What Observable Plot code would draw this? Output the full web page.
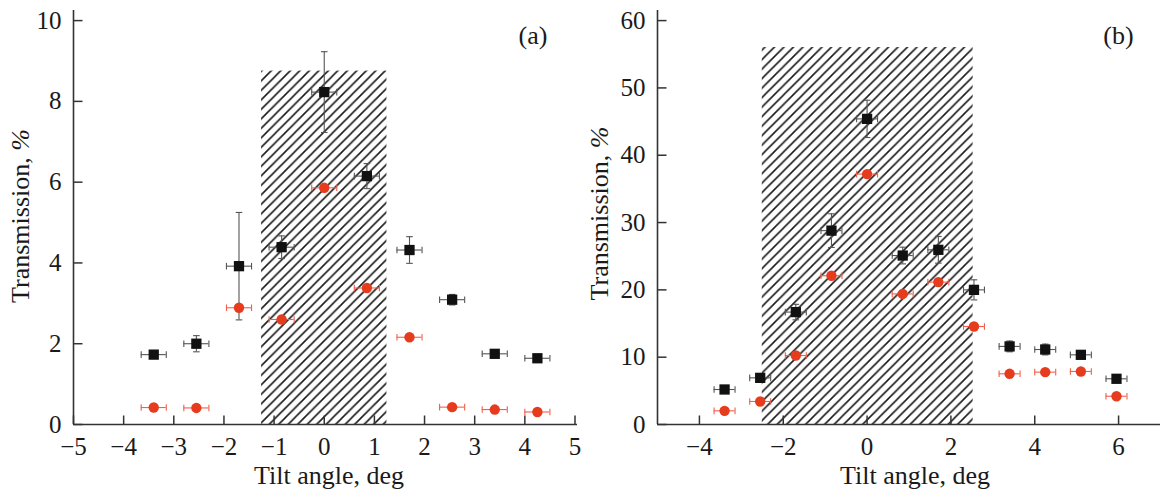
<!DOCTYPE html>
<html><head><meta charset="utf-8">
<script src="https://cdn.jsdelivr.net/npm/d3@7"></script>
<script src="https://cdn.jsdelivr.net/npm/@observablehq/plot@0.6"></script>
<style>
html,body{margin:0;padding:0;background:#fff;}
#wrap{display:flex;width:1162px;height:491px;overflow:hidden;}
#wrap svg{overflow:visible;display:block;flex:none;}
</style></head><body>
<svg width="0" height="0" style="position:absolute">
 <defs><pattern id="hatch" patternUnits="userSpaceOnUse" width="9.5" height="9.5">
  <path d="M-2,2L2,-2M0,9.5L9.5,0M7.5,11.5L11.5,7.5" stroke="#1a1a1a" stroke-width="1.6"/>
 </pattern></defs></svg>
<div id="wrap"></div>
<script>
// ---- Panel (a) ----
const angleA = [-3.4, -2.55, -1.7, -0.85, 0, 0.85, 1.7, 2.55, 3.4, 4.25];
const blackA = [1.73, 2.0, 3.92, 4.39, 8.23, 6.15, 4.32, 3.09, 1.75, 1.64];
const blackErrA = [0.06, 0.2, 1.33, 0.28, 1.0, 0.31, 0.33, 0.13, 0.06, 0.06];
const redA = [0.42, 0.41, 2.89, 2.6, 5.86, 3.38, 2.16, 0.43, 0.37, 0.31];
const hatchA = [-1.25, 1.25, 8.75];
const xTicksA = [-5, -4, -3, -2, -1, 0, 1, 2, 3, 4, 5];
const yTicksA = [0, 2, 4, 6, 8, 10];

// ---- Panel (b) ----
const angleB = [-3.4, -2.55, -1.7, -0.85, 0, 0.85, 1.7, 2.55, 3.4, 4.25, 5.1, 5.95];
const blackB = [5.2, 6.93, 16.7, 28.8, 45.4, 25.1, 25.95, 20.0, 11.6, 11.14, 10.35, 6.79];
const blackErrB = [0.4, 0.4, 1.15, 2.5, 2.77, 1.24, 1.98, 1.49, 0.8, 0.8, 0.5, 0.5];
const redB = [2.03, 3.42, 10.25, 22.1, 37.2, 19.4, 21.15, 14.56, 7.53, 7.78, 7.88, 4.2];
const hatchB = [-2.5, 2.53, 56];
const xTicksB = [-4, -2, 0, 2, 4, 6];
const yTicksB = [0, 10, 20, 30, 40, 50, 60];

const angleErr = 0.25;
const xLabel = "Tilt angle, deg";
const yLabel = "Transmission, %";

const FONT = '"Liberation Serif", "Times New Roman", Times, serif';
const AXIS = "#333";
const BLACK = "#111";
const BLACKBAR = "#555";
const RED = "#e63b1c";
const REDBAR = "#f0604c";

const upTick = {draw(ctx) { ctx.moveTo(0, 0); ctx.lineTo(0, -9); }};
const rightTick = {draw(ctx) { ctx.moveTo(0, 0); ctx.lineTo(9, 0); }};
const vCap = {draw(ctx) { ctx.moveTo(0, -3.3); ctx.lineTo(0, 3.3); }};
const hCap = {draw(ctx) { ctx.moveTo(-3.3, 0); ctx.lineTo(3.3, 0); }};
const fmt = d => d < 0 ? "\u2212" + Math.abs(d) : String(d);

function panel(p) {
  const B = p.angle.map((x, i) => ({x, y: p.black[i], e: p.blackErr[i]}));
  const R = p.angle.map((x, i) => ({x, y: p.red[i]}));
  const caps = (rows) => rows.flatMap(d => [{x: d.x - angleErr, y: d.y}, {x: d.x + angleErr, y: d.y}]);
  const vcaps = B.flatMap(d => [{x: d.x, y: d.y - d.e}, {x: d.x, y: d.y + d.e}]);
  const svg = Plot.plot({
    width: p.width, height: 491,
    marginTop: 10, marginBottom: 67, marginLeft: p.marginLeft, marginRight: p.marginRight,
    x: {domain: p.xDomain},
    y: {domain: p.yDomain},
    style: {fontFamily: FONT, fontSize: "25px", color: "#1a1a1a", background: "white", overflow: "visible"},
    marks: [
      Plot.rect([p.hatch], {x1: d => d[0], x2: d => d[1], y1: () => 0, y2: d => d[2], fill: "url(#hatch)"}),
      Plot.ruleY([0], {stroke: AXIS, strokeWidth: 1.6}),
      Plot.ruleX([p.xDomain[0]], {stroke: AXIS, strokeWidth: 1.6}),
      Plot.dot(p.xTicks, {x: d => d, y: () => 0, symbol: upTick, r: 1, stroke: AXIS, strokeWidth: 1.5, fill: "none"}),
      Plot.dot(p.yTicks, {x: () => p.xDomain[0], y: d => d, symbol: rightTick, r: 1, stroke: AXIS, strokeWidth: 1.5, fill: "none"}),
      Plot.axisX({ticks: p.xTicks, tickSize: 0, tickPadding: 13, fontSize: 25, tickFormat: fmt, label: null}),
      Plot.axisY({ticks: p.yTicks, tickSize: 0, tickPadding: 12, fontSize: 25, tickFormat: fmt, label: null}),
      // red error bars (angle)
      Plot.ruleY(R, {x1: d => d.x - angleErr, x2: d => d.x + angleErr, y: "y", stroke: REDBAR, strokeWidth: 1.1}),
      Plot.dot(caps(R), {x: "x", y: "y", symbol: vCap, r: 1, stroke: REDBAR, strokeWidth: 1.1, fill: "none"}),
      // black error bars
      Plot.ruleY(B, {x1: d => d.x - angleErr, x2: d => d.x + angleErr, y: "y", stroke: BLACKBAR, strokeWidth: 1.1}),
      Plot.dot(caps(B), {x: "x", y: "y", symbol: vCap, r: 1, stroke: BLACKBAR, strokeWidth: 1.1, fill: "none"}),
      Plot.ruleX(B, {x: "x", y1: d => d.y - d.e, y2: d => d.y + d.e, stroke: BLACKBAR, strokeWidth: 1.1}),
      Plot.dot(vcaps, {x: "x", y: "y", symbol: hCap, r: 1, stroke: BLACKBAR, strokeWidth: 1.1, fill: "none"}),
      // markers
      Plot.dot(R, {x: "x", y: "y", symbol: "circle", r: 5.2, fill: RED, stroke: "none"}),
      Plot.dot(B, {x: "x", y: "y", symbol: "square", r: 5.8, fill: BLACK, stroke: "none"}),
      // texts
      Plot.text([xLabel], {frameAnchor: "bottom", dx: p.xlabDx, dy: 51, fontSize: 26, lineAnchor: "middle", fill: "#1a1a1a"}),
      Plot.text([yLabel], {frameAnchor: "left", rotate: -90, dx: p.ylabDx, dy: p.ylabDy, fontSize: 26, lineAnchor: "middle", textAnchor: "middle", fill: "#1a1a1a"}),
      Plot.text([p.tag], {frameAnchor: "top-right", dx: p.tagDx, dy: 25, fontSize: 26, lineAnchor: "middle", textAnchor: "middle", fill: "#1a1a1a"})
    ]
  });
  d3.select(svg).selectAll("text").each(function() {
    if (this.textContent === yLabel) {
      this.textContent = "Transmission, ";
      d3.select(this).append("tspan").attr("font-style", "italic").text("%");
    }
  });
  return svg;
}

const wrap = document.getElementById("wrap");
wrap.append(panel({
  width: 584, marginLeft: 73, marginRight: 7,
  xDomain: [-5, 5.05], yDomain: [0, 10.25],
  xTicks: xTicksA, yTicks: yTicksA,
  angle: angleA, black: blackA, blackErr: blackErrA, red: redA, hatch: hatchA,
  tag: "(a)", xlabDx: 3.5, ylabDx: -53, ylabDy: -1.5, tagDx: -44.5
}));
wrap.append(panel({
  width: 578, marginLeft: 73, marginRight: 2,
  xDomain: [-5, 7], yDomain: [0, 61.5],
  xTicks: xTicksB, yTicks: yTicksB,
  angle: angleB, black: blackB, blackErr: blackErrB, red: redB, hatch: hatchB,
  tag: "(b)", xlabDx: 6, ylabDx: -57.5, ylabDy: -4, tagDx: -42
}));
</script>
</body></html>
